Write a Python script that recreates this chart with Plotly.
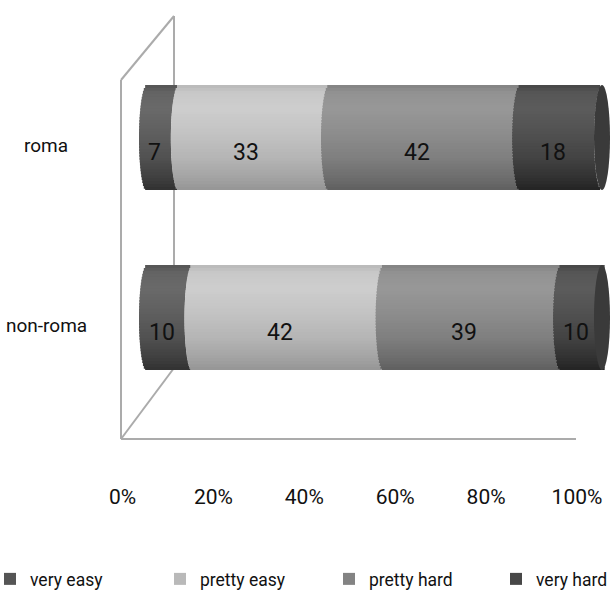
import numpy as np
import plotly.graph_objects as go

# ---- data -------------------------------------------------------------
groups = ["roma", "non-roma"]
series = ["very easy", "pretty easy", "pretty hard", "very hard"]
roma_vals = [7, 33, 42, 18]
nonroma_vals = [10, 42, 39, 10]
tick_vals = [0, 20, 40, 60, 80, 100]
tick_text = ["0%", "20%", "40%", "60%", "80%", "100%"]

# ---- style ------------------------------------------------------------
FONT = "Roboto, Liberation Sans, sans-serif"
base_grey = [90, 190, 136, 76]          # mid-tone grey of each series
face_grey = "rgb(58,58,58)"             # right end cap of the cylinders
frame_col = "#ababab"

# vertical shading ramp across a cylinder (0 = top edge, 1 = bottom edge)
ramp_t = [0.0, 0.07, 0.22, 0.45, 0.70, 0.88, 1.0]
ramp_d = [-5, 10, 16, 6, -9, -26, -40]

W = 0.5833        # cylinder thickness in y units
N = 36            # shading bands per cylinder
h = W / N
RX = 1.76         # horizontal radius of the elliptical cross-sections

ypos = [1, 0]     # roma on top, non-roma below
values = np.array([roma_vals, nonroma_vals], dtype=float)
starts = np.cumsum(values, axis=1) - values

# pixel layout of the figure
FW, FH = 611, 595
ML, MB = 100, 155
PW, PH = FW - ML, FH - MB


def px(x, y):
    """pixel position -> paper coordinates"""
    return (x - ML) / PW, (PH - y) / PH


legend_ids = ["legend", "legend2", "legend3", "legend4"]
legend_left = [-10, 160, 329, 496]      # left edge of each legend entry, px

fig = go.Figure()

# cylinders: each segment is drawn as a stack of thin horizontal bands
for k, name in enumerate(series):
    for i in range(N):
        t = (i + 0.5) / N
        s = 1 - 2 * t
        shift = RX * np.sqrt(max(0.0, 1 - s * s))
        g = int(np.clip(base_grey[k] + np.interp(t, ramp_t, ramp_d), 0, 255))
        col = f"rgb({g},{g},{g})"
        off = W / 2 - (i + 1) * h
        wid = h
        if i < N - 1:
            off -= 0.6 * h
            wid = 1.6 * h
        fig.add_trace(go.Bar(
            orientation="h",
            y=ypos,
            x=values[:, k],
            base=starts[:, k] - shift,
            offset=off,
            width=wid,
            marker=dict(color=col, line=dict(width=0)),
            name=name,
            legendgroup=name,
            legend=legend_ids[k],
            showlegend=(i == int(N * 0.62)),
            hoverinfo="skip",
        ))

# end caps on the right
for r, y in enumerate(ypos):
    fig.add_shape(type="circle", xref="x", yref="y",
                  x0=100 - RX, x1=100 + RX, y0=y - W / 2, y1=y + W / 2,
                  fillcolor=face_grey, line=dict(width=0), layer="above")

# value labels
for r, y in enumerate(ypos):
    for k in range(len(series)):
        v = values[r, k]
        fig.add_annotation(x=starts[r, k] + v / 2 - RX, y=y, xref="x", yref="y",
                           text=f"{v:g}", showarrow=False, yshift=-15,
                           font=dict(family=FONT, size=23, color="#111"))

# category labels
for r, y in enumerate(ypos):
    fig.add_annotation(x=px(46, 0)[0], y=y, xref="paper", yref="y",
                       text=groups[r], showarrow=False, yshift=-8,
                       xanchor="center",
                       font=dict(family=FONT, size=19, color="#111"))

# 3-D frame (walls and floor edges)
frame = [((121, 80), (121, 439)), ((121, 439), (576, 439)),
         ((121, 439), (174, 368)), ((174, 368), (174, 16)),
         ((121, 80), (174, 16))]
for (xa, ya), (xb, yb) in frame:
    p0, p1 = px(xa, ya), px(xb, yb)
    fig.add_shape(type="line", xref="paper", yref="paper",
                  x0=p0[0], y0=p0[1], x1=p1[0], y1=p1[1],
                  line=dict(color=frame_col, width=2), layer="below")

# invisible trace that carries the percentage axis
fig.add_trace(go.Scatter(x=[tick_vals[0], tick_vals[-1]], y=[None, None],
                         xaxis="x2", mode="lines", showlegend=False,
                         hoverinfo="skip"))

# axis ranges (bars: 0 -> 147 px, 100 -> 602 px; ticks: 0 -> 122.5 px, 100 -> 577 px)
bx_scale = (602 - 147) / 100
bx0 = -(147 - ML) / bx_scale
tx_scale = (577 - 122.5) / 100
tx0 = -(122.5 - ML) / tx_scale
y_scale = 180.0
ymin = -(PH - 317.5) / y_scale

legends = {}
for n, lid in enumerate(legend_ids):
    legends[lid] = dict(orientation="h", x=px(legend_left[n], 0)[0], xanchor="left",
                        y=px(0, 579)[1], yanchor="middle",
                        font=dict(family=FONT, size=17.5, color="#111"),
                        bgcolor="rgba(0,0,0,0)")

fig.update_layout(
    width=FW, height=FH,
    margin=dict(l=ML, r=0, t=0, b=MB, autoexpand=False),
    paper_bgcolor="white", plot_bgcolor="white",
    barmode="overlay",
    xaxis=dict(range=[bx0, bx0 + PW / bx_scale], visible=False),
    xaxis2=dict(overlaying="x", side="bottom",
                range=[tx0, tx0 + PW / tx_scale],
                tickmode="array", tickvals=tick_vals, ticktext=tick_text,
                ticks="outside", ticklen=38, tickcolor="rgba(0,0,0,0)",
                showline=False, showgrid=False, zeroline=False,
                tickfont=dict(family=FONT, size=21, color="#111")),
    yaxis=dict(range=[ymin, ymin + PH / y_scale], visible=False),
    showlegend=True,
    **legends,
)

fig.write_html("out.html")
